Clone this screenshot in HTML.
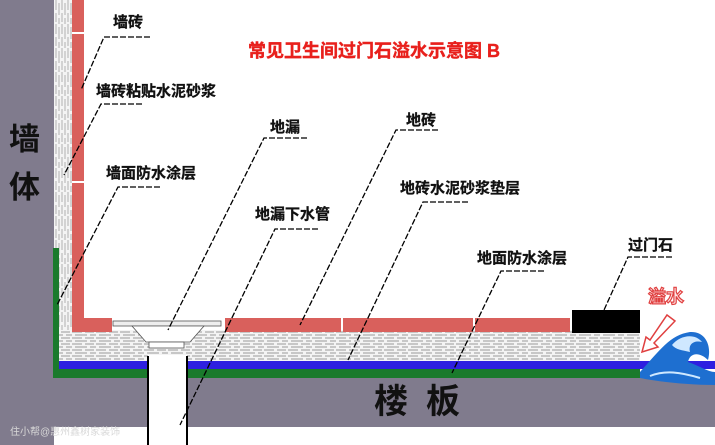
<!DOCTYPE html>
<html><head><meta charset="utf-8"><style>
html,body{margin:0;padding:0;background:#fff;}
svg{display:block;}
text{font-family:"Liberation Sans","Noto Sans CJK SC",sans-serif;}
</style></head><body>
<svg width="715" height="445" viewBox="0 0 715 445" xmlns="http://www.w3.org/2000/svg">
<defs>
<pattern id="mort" width="24" height="6" patternUnits="userSpaceOnUse">
<rect width="24" height="6" fill="#f4f4f4"/>
<path d="M0 2 L10 2 M13 2 L22 2 M3 5 L15 5 M18 5 L24 5" stroke="#9a9a9a" stroke-width="0.9"/>
</pattern>
<pattern id="mortv" width="6" height="24" patternUnits="userSpaceOnUse">
<rect width="6" height="24" fill="#f4f4f4"/>
<path d="M2 0 L2 10 M2 13 L2 22 M5 3 L5 15 M5 18 L5 24" stroke="#a0a0a0" stroke-width="0.8"/>
</pattern>
</defs>
<rect x="0" y="0" width="54" height="445" fill="#807b8d"/>
<rect x="54" y="378" width="661" height="49" fill="#807b8d"/>
<rect x="54" y="0" width="18" height="330" fill="url(#mortv)"/>
<rect x="59" y="330" width="581" height="31" fill="url(#mort)"/>
<rect x="72" y="0" width="12" height="318" fill="#d9605c"/>
<rect x="72" y="32" width="12" height="2" fill="#fff"/>
<rect x="72" y="181" width="12" height="2" fill="#fff"/>
<rect x="72" y="318" width="40" height="14" fill="#d9605c"/>
<rect x="225" y="318" width="116" height="14" fill="#d9605c"/>
<rect x="343" y="318" width="130" height="14" fill="#d9605c"/>
<rect x="475" y="318" width="95" height="14" fill="#d9605c"/>
<rect x="572" y="310" width="68" height="23" fill="#000"/>
<rect x="59" y="361" width="656" height="8" fill="#2e1fe0"/>
<rect x="53" y="248" width="6" height="130" fill="#1a7a2c"/>
<rect x="53" y="369" width="587" height="9" fill="#1a7a2c"/>
<rect x="148" y="355" width="39" height="90" fill="#fff"/>
<line x1="148" y1="356" x2="148" y2="445" stroke="#000" stroke-width="2"/>
<line x1="187" y1="356" x2="187" y2="445" stroke="#000" stroke-width="2"/>
<rect x="113" y="321" width="108" height="5" fill="#eee" stroke="#555" stroke-width="0.8"/>
<path d="M132 326 L204 326 L190 342 L146 342 Z" fill="#fff" stroke="#555" stroke-width="0.8"/>
<rect x="149" y="342" width="35" height="6" fill="#fff" stroke="#555" stroke-width="0.8"/>
<path d="M640 372 C660 350 670 335 690 332 C705 331 712 345 708 360 C700 352 690 352 688 362 C700 366 708 372 715 372 L715 385 C690 385 660 382 640 378 Z" fill="#1e6fd0"/>
<path d="M672 345 C680 335 695 333 702 342 C694 340 688 344 690 352 C682 350 676 350 672 345 Z" fill="#cfe8ff"/>
<path d="M650 376 C665 370 680 372 700 378" stroke="#cfe8ff" stroke-width="2" fill="none"/>
<path d="M667 315 L675 321 L654 343 L658 347 L642 352 L646 337 L650 340 Z" fill="#fff" stroke="#e04040" stroke-width="1.5"/>
<g stroke="#000" stroke-width="1.3" fill="none" stroke-dasharray="6,2">
<path d="M150 37 L104 37 L81 90"/>
<path d="M142 104 L101 104 L64 175"/>
<path d="M160 187 L118 187 L57 305"/>
<path d="M307 138 L264 138 L168 330"/>
<path d="M438 130 L396 130 L300 325"/>
<path d="M468 202 L423 202 L348 360"/>
<path d="M318 229 L275 229 L180 425"/>
<path d="M544 271 L501 271 L452 373"/>
<path d="M672 257 L628 257 L604 310"/>
</g>
<g font-size="15" font-weight="bold" fill="#111" stroke="#111" stroke-width="0.3">
<text x="113" y="27">墙砖</text>
<text x="96" y="96">墙砖粘贴水泥砂浆</text>
<text x="106" y="178">墙面防水涂层</text>
<text x="270" y="132">地漏</text>
<text x="406" y="125">地砖</text>
<text x="400" y="193">地砖水泥砂浆垫层</text>
<text x="255" y="219">地漏下水管</text>
<text x="477" y="263">地面防水涂层</text>
<text x="628" y="250">过门石</text>
</g>
<text x="248" y="57" font-size="18" font-weight="bold" fill="#e8201c" stroke="#e8201c" stroke-width="0.4">常见卫生间过门石溢水示意图 B</text>
<text x="9" y="150" font-size="31" font-weight="bold" fill="#111">墙</text>
<text x="9" y="198" font-size="31" font-weight="bold" fill="#111">体</text>
<text x="374" y="413" font-size="34" font-weight="bold" fill="#111" letter-spacing="18">楼板</text>
<text x="648" y="303" font-size="18" font-weight="bold" fill="#ffe6e6" stroke="#e04040" stroke-width="1.2">溢水</text>
<text x="10" y="435" font-size="10" fill="#d8d8d8">住小帮@惠州鑫树家装饰</text>
</svg>
</body></html>
